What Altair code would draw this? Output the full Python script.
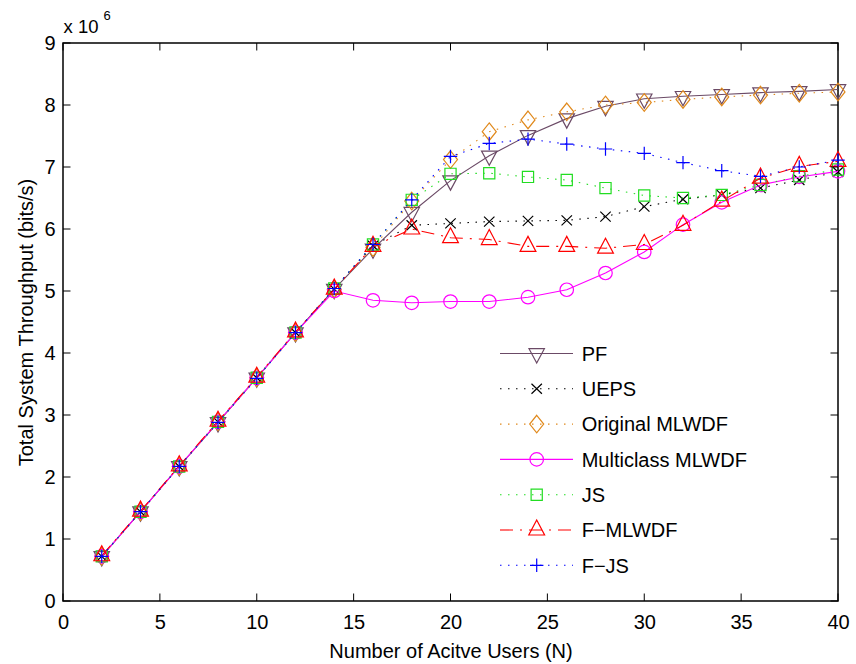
import altair as alt
import pandas as pd

# ---------------- data (throughput in units of 10^6 bits/s) ----------------
users = [2, 4, 6, 8, 10, 12, 14, 16, 18, 20, 22, 24, 26, 28, 30, 32, 34, 36, 38, 40]

series_names = ["PF", "UEPS", "Original MLWDF", "Multiclass MLWDF", "JS",
                "F\u2212MLWDF", "F\u2212JS"]

pf = [0.72, 1.44, 2.17, 2.88, 3.60, 4.33, 5.03, 5.68, 6.27, 6.78, 7.18, 7.51, 7.78, 7.98, 8.10,
      8.14, 8.17, 8.20, 8.22, 8.25]
ueps = [0.72, 1.44, 2.17, 2.89, 3.60, 4.33, 5.03, 5.73, 6.06, 6.09, 6.12, 6.13, 6.14, 6.20, 6.36,
        6.48, 6.55, 6.66, 6.79, 6.92]
orig_mlwdf = [0.72, 1.44, 2.17, 2.89, 3.60, 4.33, 5.03, 5.70, 6.45, 7.12, 7.57, 7.76, 7.89, 8.00, 8.04,
              8.09, 8.13, 8.16, 8.19, 8.21]
multi_mlwdf = [0.72, 1.44, 2.17, 2.89, 3.60, 4.33, 5.00, 4.85, 4.81, 4.83, 4.83, 4.90, 5.02, 5.29, 5.63,
               6.07, 6.43, 6.71, 6.84, 6.93]
js = [0.72, 1.44, 2.17, 2.89, 3.60, 4.33, 5.04, 5.75, 6.47, 6.89, 6.90, 6.84, 6.79, 6.66, 6.54,
      6.50, 6.55, 6.71, 6.85, 6.96]
f_mlwdf = [0.73, 1.45, 2.18, 2.90, 3.61, 4.34, 5.03, 5.72, 6.00, 5.86, 5.83, 5.72, 5.72, 5.69, 5.75,
           6.06, 6.45, 6.82, 7.01, 7.09]
f_js = [0.72, 1.44, 2.17, 2.88, 3.59, 4.33, 5.04, 5.75, 6.47, 7.17, 7.38, 7.45, 7.37, 7.29, 7.22,
        7.07, 6.94, 6.85, 7.00, 7.11]

series_values = [pf, ueps, orig_mlwdf, multi_mlwdf, js, f_mlwdf, f_js]

x_ticks = [0, 5, 10, 15, 20, 25, 30, 35, 40]
y_ticks = [0, 1, 2, 3, 4, 5, 6, 7, 8, 9]

# ---------------- styles ----------------
colors = ["#6b4a66", "#000000", "#e0891c", "#ff00ff", "#22dd22", "#ff0000", "#0000ff"]
dot = [1.5, 6.5]
dashes = [None, dot, dot, None, dot, [13, 7, 2, 7], dot]
shapes = [
    "M-0.77,-0.48L0.77,-0.48L0,0.95Z",          # triangle down
    "M-0.52,-0.5L0.52,0.5M-0.52,0.5L0.52,-0.5",  # x
    "M0,-0.88L0.7,0L0,0.88L-0.7,0Z",             # diamond
    "circle",
    "square",
    "M-0.79,0.5L0.79,0.5L0,-1.0Z",               # triangle up
    "M-0.67,0L0.67,0M0,-0.67L0,0.67",            # plus
]
sizes = [400, 400, 400, 182, 125, 400, 400]

W, H = 775, 558
FONT = "Liberation Sans"
FS = 20

xscale = alt.Scale(domain=[0, 40], nice=False, zero=False)
yscale = alt.Scale(domain=[0, 9], nice=False, zero=False)

xaxis = alt.Axis(values=x_ticks, grid=False, domain=False, ticks=False, tickSize=0,
                 labelFont=FONT, labelFontSize=FS, labelColor="black",
                 labelBaseline="alphabetic", labelPadding=27, labelFlush=False,
                 title="Number of Acitve Users (N)", titleFont=FONT, titleFontSize=FS,
                 titleFontWeight="normal", titleColor="black",
                 titleBaseline="alphabetic", titleY=56, titleX=W / 2)
yaxis = alt.Axis(values=y_ticks, grid=False, domain=False, ticks=False, tickSize=0,
                 labelFont=FONT, labelFontSize=FS, labelColor="black",
                 labelPadding=8, labelFlush=False,
                 title="Total System Throughput (bits/s)", titleFont=FONT, titleFontSize=FS,
                 titleFontWeight="normal", titleColor="black",
                 titleBaseline="alphabetic", titleX=-31, titleY=H / 2, titleAngle=270,
                 titleAlign="center")


def X(field):
    return alt.X(field, type="quantitative", scale=xscale, axis=xaxis)


def Y(field):
    return alt.Y(field, type="quantitative", scale=yscale, axis=yaxis)


layers = []
for i, name in enumerate(series_names):
    df = pd.DataFrame({"users": users, "tput": series_values[i], "series": name})
    line_kw = dict(color=colors[i], strokeWidth=1.1, clip=True)
    if dashes[i] is not None:
        line_kw["strokeDash"] = dashes[i]
    layers.append(alt.Chart(df).mark_line(**line_kw).encode(x=X("users"), y=Y("tput")))
    layers.append(alt.Chart(df).mark_point(shape=shapes[i], size=sizes[i], filled=False,
                                           color=colors[i], strokeWidth=1.2, opacity=1)
                  .encode(x=X("users"), y=Y("tput")))

# inward ticks on all four sides
TL = 7.5
xt = pd.DataFrame({"xt": x_ticks})
yt = pd.DataFrame({"yt": y_ticks})
tick_style = dict(color="black", strokeWidth=1)
layers.append(alt.Chart(xt).mark_rule(**tick_style).encode(x=X("xt"), y=alt.value(H), y2=alt.value(H - TL)))
layers.append(alt.Chart(xt).mark_rule(**tick_style).encode(x=X("xt"), y=alt.value(0), y2=alt.value(TL)))
layers.append(alt.Chart(yt).mark_rule(**tick_style).encode(y=Y("yt"), x=alt.value(0), x2=alt.value(TL)))
layers.append(alt.Chart(yt).mark_rule(**tick_style).encode(y=Y("yt"), x=alt.value(W), x2=alt.value(W - TL)))

# legend (layout positions in pixels)
LEG_X0, LEG_X1, LEG_MX, LEG_TX = 437, 510, 473.7, 518.7
LEG_TOP, LEG_STEP = 310.5, 35.3
for i, name in enumerate(series_names):
    ly = LEG_TOP + i * LEG_STEP
    one = pd.DataFrame({"series": [name]})
    kw = dict(color=colors[i], strokeWidth=1.1)
    if dashes[i] is not None:
        kw["strokeDash"] = dashes[i]
    layers.append(alt.Chart(one).mark_rule(**kw).encode(
        x=alt.value(LEG_X0), x2=alt.value(LEG_X1), y=alt.value(ly)))
    layers.append(alt.Chart(one).mark_point(shape=shapes[i], size=sizes[i], filled=False,
                                            color=colors[i], strokeWidth=1.2, opacity=1)
                  .encode(x=alt.value(LEG_MX), y=alt.value(ly)))

leg_df = pd.DataFrame({"name": series_names,
                       "ly": [LEG_TOP + i * LEG_STEP + 7.2 for i in range(len(series_names))]})
layers.append(alt.Chart(leg_df).mark_text(align="left", baseline="alphabetic", font=FONT,
                                          fontSize=FS, color="black")
              .encode(x=alt.value(LEG_TX), y=alt.Y("ly:Q", scale=None), text="name:N"))

# exponent label "x 10^6"
exp_df = pd.DataFrame({"t": ["x 10"]})
layers.append(alt.Chart(exp_df).mark_text(align="left", baseline="alphabetic", font=FONT,
                                          fontSize=18.5, color="black")
              .encode(x=alt.value(0.5), y=alt.value(-10), text="t:N"))
exp6_df = pd.DataFrame({"t": ["6"]})
layers.append(alt.Chart(exp6_df).mark_text(align="left", baseline="alphabetic", font=FONT,
                                           fontSize=13, color="black")
              .encode(x=alt.value(40.5), y=alt.value(-23), text="t:N"))

chart = alt.layer(*layers).properties(
    width=W, height=H,
    autosize=alt.AutoSizeParams(type="none"),
    padding={"left": 63, "top": 43, "right": 18, "bottom": 63},
    background="white",
).configure_view(stroke="black", strokeWidth=1.5)

chart.save("out.html", embed_options={"renderer": "svg", "actions": False})
